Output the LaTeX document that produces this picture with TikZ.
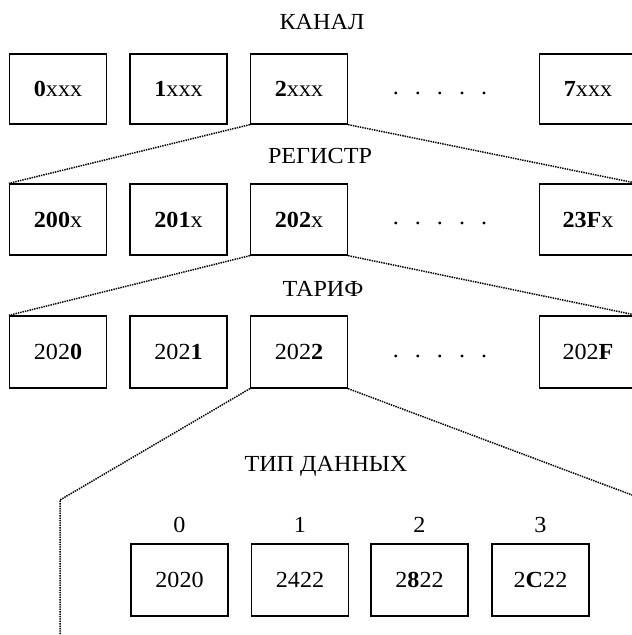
\documentclass[tikz,border=0pt]{standalone}
\usepackage{fontspec}
\setmainfont{Liberation Serif}[FakeStretch=1.05]
\begin{document}
\begin{tikzpicture}[x=1pt,y=-1pt,
  cell/.style={draw,line width=1.3pt,minimum width=97pt,minimum height=70pt,inner sep=0pt,font=\fontsize{23}{25}\selectfont},
  lbl/.style={font=\fontsize{23}{25}\selectfont,inner sep=0pt},
  dotline/.style={line width=1.5pt,dash pattern=on 1.4pt off 1pt}]
\clip (0,0) rectangle (632,635);
% titles
\node[lbl] (tkanal) at (322,22) {КАНАЛ};
\node[lbl] (treg) at (320,156) {РЕГИСТР};
\node[lbl] (ttar) at (323,289) {ТАРИФ};
\node[lbl] (ttip) at (326,466) {ТИП ДАННЫХ};
% row 1
\node[cell] (b10) at (58,89) {\textbf{0}xxx};
\node[cell] (b11) at (178.5,89) {\textbf{1}xxx};
\node[cell] (b12) at (299,89) {\textbf{2}xxx};
\node[lbl] (d1) at (440,93) {.\hspace{16pt}.\hspace{16pt}.\hspace{16pt}.\hspace{16pt}.};
\node[cell] (b17) at (588,89) {\textbf{7}xxx};
% row 2
\node[cell,minimum height=71pt] (b20) at (58,219.5) {\textbf{200}x};
\node[cell,minimum height=71pt] (b21) at (178.5,219.5) {\textbf{201}x};
\node[cell,minimum height=71pt] (b22) at (299,219.5) {\textbf{202}x};
\node[lbl] (d2) at (440,223.5) {.\hspace{16pt}.\hspace{16pt}.\hspace{16pt}.\hspace{16pt}.};
\node[cell,minimum height=71pt] (b23) at (588,219.5) {\textbf{23F}x};
% row 3
\node[cell,minimum height=72pt] (b30) at (58,352) {202\textbf{0}};
\node[cell,minimum height=72pt] (b31) at (178.5,352) {202\textbf{1}};
\node[cell,minimum height=72pt] (b32) at (299,352) {202\textbf{2}};
\node[lbl] (d3) at (440,356) {.\hspace{16pt}.\hspace{16pt}.\hspace{16pt}.\hspace{16pt}.};
\node[cell,minimum height=72pt] (b3f) at (588,352) {202\textbf{F}};
% row 4
\node[lbl] (n0) at (179.5,525) {0};
\node[lbl] (n1) at (300,525) {1};
\node[lbl] (n2) at (419.5,525) {2};
\node[lbl] (n3) at (540.5,525) {3};
\node[cell,minimum height=72pt] (b40) at (179.5,580) {2020};
\node[cell,minimum height=72pt] (b41) at (300,580) {2422};
\node[cell,minimum height=72pt] (b42) at (419.5,580) {2\textbf{8}22};
\node[cell,minimum height=72pt] (b43) at (540.5,580) {2\textbf{C}22};
% connectors
\draw[dotline] (b12.south west) -- (b20.north west);
\draw[dotline] (b12.south east) -- (b23.north east);
\draw[dotline] (b22.south west) -- (b30.north west);
\draw[dotline] (b22.south east) -- (b3f.north east);
\coordinate (cl) at (60,500);
\coordinate (clb) at (60,640);
\coordinate (cr) at (640,498);
\draw[dotline] (b32.south west) -- (cl) -- (clb);
\draw[dotline] (b32.south east) -- (cr);
\end{tikzpicture}
\end{document}
